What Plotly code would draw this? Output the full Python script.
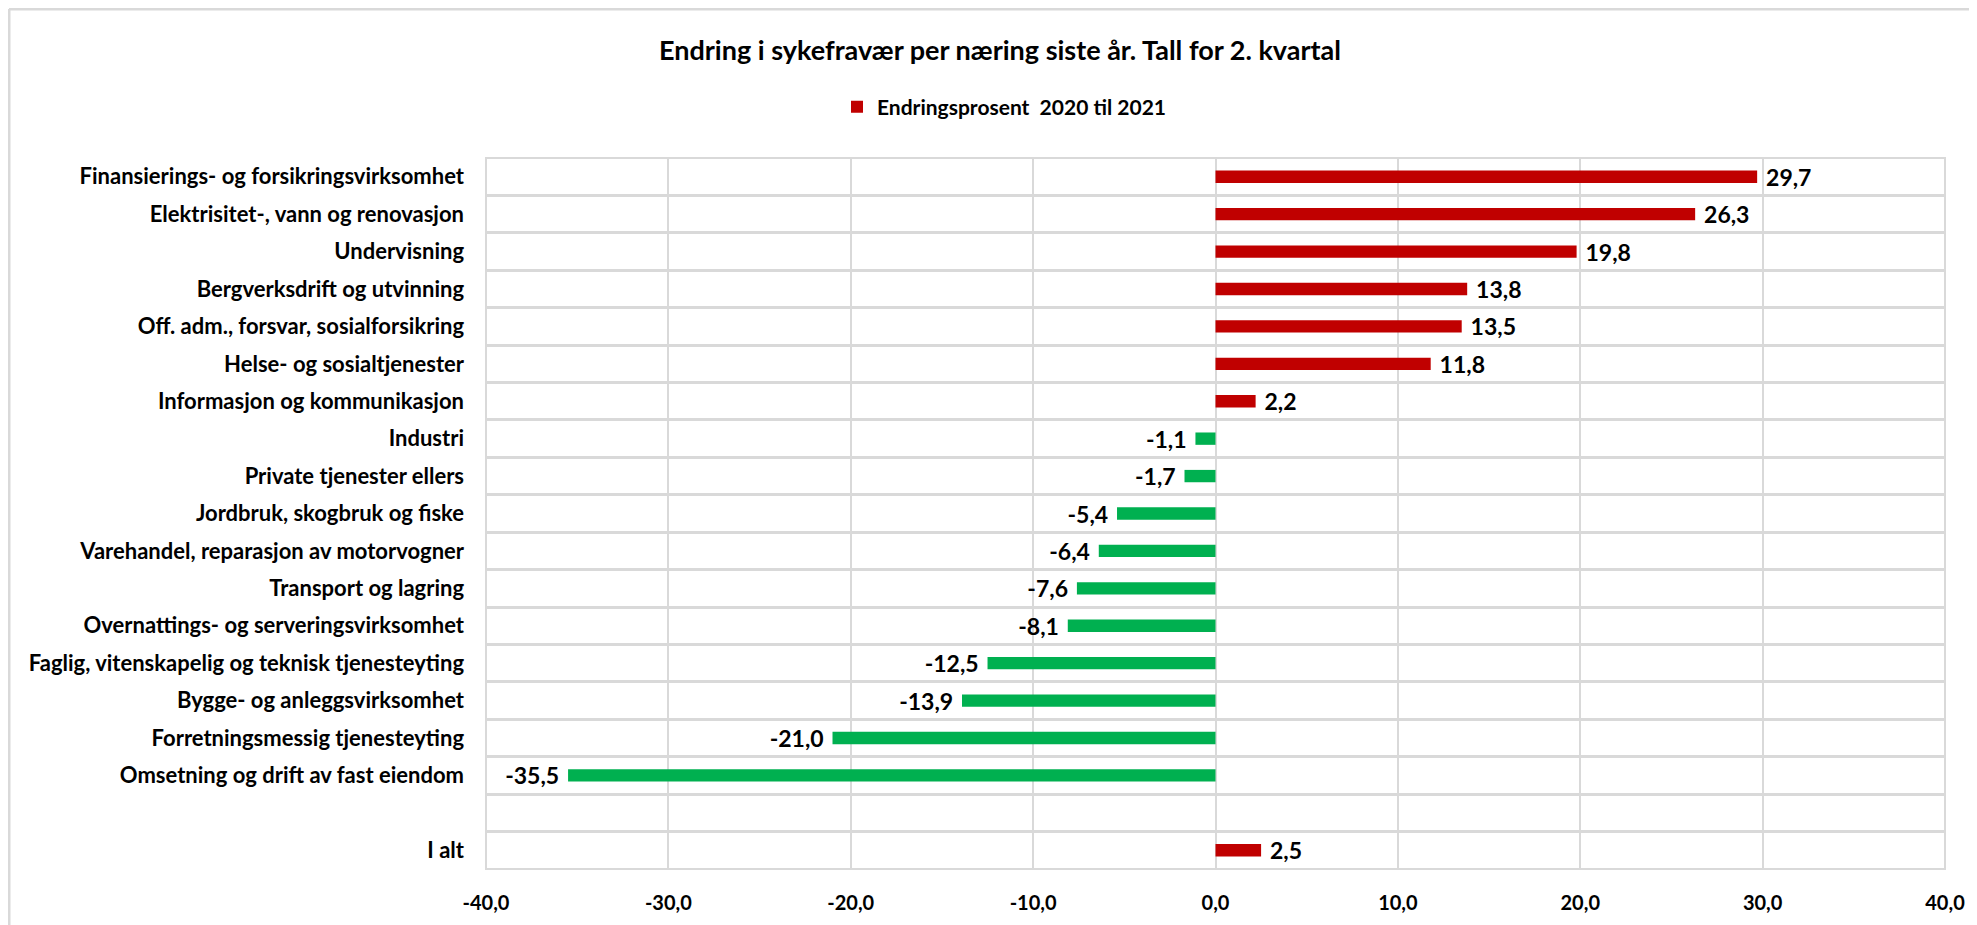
import plotly.graph_objects as go

# ---- data ----
categories = [
    "Finansierings- og forsikringsvirksomhet",
    "Elektrisitet-, vann og renovasjon",
    "Undervisning",
    "Bergverksdrift og utvinning",
    "Off. adm., forsvar, sosialforsikring",
    "Helse- og sosialtjenester",
    "Informasjon og kommunikasjon",
    "Industri",
    "Private tjenester ellers",
    "Jordbruk, skogbruk og fiske",
    "Varehandel, reparasjon av motorvogner",
    "Transport og lagring",
    "Overnattings- og serveringsvirksomhet",
    "Faglig, vitenskapelig og teknisk tjenesteyting",
    "Bygge- og anleggsvirksomhet",
    "Forretningsmessig tjenesteyting",
    "Omsetning og drift av fast eiendom",
    "I alt",
]
values = [29.7, 26.3, 19.8, 13.8, 13.5, 11.8, 2.2, -1.1, -1.7, -5.4, -6.4,
          -7.6, -8.1, -12.5, -13.9, -21.0, -35.5, 2.5]
# axis order (blank row before "I alt")
axis_order = categories[:-1] + [" "] + categories[-1:]
series_name = "Endringsprosent  2020 til 2021"
title_text = "Endring i sykefravær per næring siste år. Tall for 2. kvartal"
x_ticks = [-40, -30, -20, -10, 0, 10, 20, 30, 40]

RED = "#C00000"
GREEN = "#00B050"
GRID = "#D9D9D9"
FONT = "Lato, Carlito, Calibri, sans-serif"

colors = [RED if v >= 0 else GREEN for v in values]
NB = "\u00a0"
templates = [(NB + "<b>%{x:.1f}</b>") if v >= 0 else ("<b>%{x:.1f}</b>" + NB) for v in values]

# page body has an 8px margin -> figure is drawn 8px lower/right
OFF = 8
W, H = 1977 - OFF, 925 - OFF
L, R, T, B = 486 - OFF, 32, 158 - OFF, 56
PW, PH = W - L - R, H - T - B


def px_x(p):  # figure pixel -> paper x
    return (p - L) / PW


def px_y(p):  # figure pixel (from top) -> paper y
    return (H - B - p) / PH


fig = go.Figure()
fig.add_trace(go.Bar(
    y=categories, x=values, orientation="h",
    name="<b>" + series_name + "</b>",
    marker=dict(color=colors, line=dict(width=0)),
    texttemplate=templates, textposition="outside",
    textfont=dict(family=FONT, size=23, color="#000000"),
    constraintext="none", cliponaxis=False,
    showlegend=True,
))

fig.update_layout(
    width=W, height=H,
    margin=dict(l=L, r=R, t=T, b=B, pad=0, autoexpand=False),
    paper_bgcolor="white", plot_bgcolor="white",
    separators=", ",
    bargap=0.67,
    font=dict(family=FONT, size=22, color="#000000"),
    title=dict(text="<b>" + title_text + "</b>", x=(1000 - OFF) / W, xref="container",
               xanchor="center", y=1 - (51 - OFF) / H, yref="container", yanchor="middle",
               font=dict(family=FONT, size=27, color="#000000")),
    legend=dict(orientation="h", x=(1004 - OFF) / W, xref="container", xanchor="center",
                y=1 - (107 - OFF) / H, yref="container", yanchor="middle",
                font=dict(family=FONT, size=21, color="#000000"),
                itemwidth=30, bgcolor="rgba(0,0,0,0)"),
    xaxis=dict(range=[-40, 40], tickvals=x_ticks,
               ticktext=["<b>" + f"{v:.1f}".replace(".", ",") + "</b>" for v in x_ticks],
               showgrid=True, gridcolor=GRID, gridwidth=2,
               zeroline=False, showline=False, ticks="",
               ticklabelstandoff=20, automargin=False,
               tickfont=dict(family=FONT, size=20, color="#000000")),
    yaxis=dict(type="category", categoryorder="array", categoryarray=axis_order,
               tickvals=axis_order, ticktext=["<b>" + c + "</b>" for c in axis_order],
               autorange="reversed", tickson="boundaries",
               showgrid=True, gridcolor=GRID, gridwidth=3,
               showline=False, ticks="", ticklabelstandoff=21, automargin=False,
               tickfont=dict(family=FONT, size=22, color="#000000")),
    shapes=[
        dict(type="line", xref="paper", yref="paper",
             x0=px_x(1), x1=px_x(W), y0=px_y(1), y1=px_y(1),
             line=dict(color=GRID, width=3)),
        dict(type="line", xref="paper", yref="paper",
             x0=px_x(1), x1=px_x(1), y0=px_y(1), y1=px_y(H),
             line=dict(color=GRID, width=3)),
        dict(type="rect", xref="paper", yref="paper", x0=0, x1=1, y0=0, y1=1,
             line=dict(color=GRID, width=2), layer="below"),
    ],
)

fig.write_html("out.html")
